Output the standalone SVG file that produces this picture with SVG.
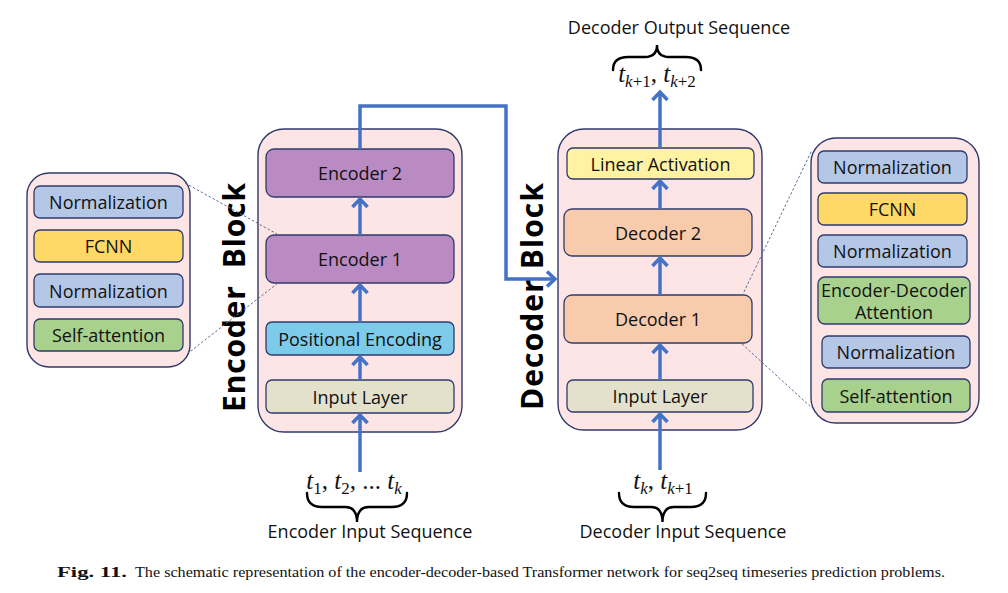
<svg xmlns="http://www.w3.org/2000/svg" width="1008" height="593" viewBox="0 0 1008 593">
<style>
.outer{fill:#fde5e6;stroke:#2f3a6b;stroke-width:1.4}
.box{stroke:#2f3a6b;stroke-width:1.3}
.lbl{font-family:"Open Sans","Liberation Sans",sans-serif;font-size:18px;fill:#111;text-anchor:middle;dominant-baseline:central}
.seq{font-family:"Open Sans","Liberation Sans",sans-serif;font-size:18px;fill:#111;text-anchor:middle}
.blk{font-family:"Open Sans","Liberation Sans",sans-serif;font-size:30px;font-weight:bold;fill:#000;text-anchor:middle}
.math{font-family:"Liberation Serif",serif;font-size:25px;font-style:italic;fill:#111;text-anchor:middle}
.sub{font-size:17px}
.up{font-style:normal}
.arr{fill:none;stroke:#4472c4;stroke-width:3.5}
.dash{fill:none;stroke:#5d6b98;stroke-width:1;stroke-dasharray:2.5,2}
.brace{fill:none;stroke:#000;stroke-width:2.4;stroke-linecap:round}
.norm{fill:#b4c7e7}.fcnn{fill:#ffd966}.sa{fill:#a9d18e}.enc{fill:#b98bc2}.pos{fill:#7ccbea}.inp{fill:#e3e1cc}.dec{fill:#f8cbad}.lin{fill:#fff2a3}
.cap{font-family:"Liberation Serif",serif;font-size:14px;fill:#111}
</style>
<defs>
<marker id="ah" markerUnits="userSpaceOnUse" markerWidth="20" markerHeight="20" refX="11" refY="10" orient="auto">
<path d="M3,2.5 L11,10 L3,17.5" fill="none" stroke="#4472c4" stroke-width="3.5"/>
</marker>
</defs>

<g id="encoder-block">
<rect class="outer" x="258" y="129" width="204" height="303" rx="26"/>
<text class="blk" transform="translate(245,297.5) rotate(-90)" textLength="229" lengthAdjust="spacing" xml:space="preserve">Encoder  Block</text>
</g>
<g id="encoder2"><rect class="box enc" x="266" y="149" width="188" height="48" rx="8"/><text class="lbl" x="360" y="173">Encoder 2</text></g>
<g id="encoder1"><rect class="box enc" x="266" y="235" width="188" height="48" rx="8"/><text class="lbl" x="360" y="259">Encoder 1</text></g>
<g id="positional-encoding"><rect class="box pos" x="266" y="322" width="188" height="33" rx="6"/><text class="lbl" x="360" y="338.5">Positional Encoding</text></g>
<g id="enc-input-layer"><rect class="box inp" x="266" y="380" width="188" height="33" rx="6"/><text class="lbl" x="360" y="396.5">Input Layer</text></g>

<g id="encoder-detail">
<rect class="outer" x="27" y="173" width="163" height="194" rx="22"/>
<rect class="box norm" x="34" y="186" width="149" height="32" rx="6"/><text class="lbl" x="108.5" y="202">Normalization</text>
<rect class="box fcnn" x="34" y="230" width="149" height="32" rx="6"/><text class="lbl" x="108.5" y="246">FCNN</text>
<rect class="box norm" x="34" y="274" width="149" height="33" rx="6"/><text class="lbl" x="108.5" y="290.5">Normalization</text>
<rect class="box sa" x="34" y="319" width="149" height="32" rx="6"/><text class="lbl" x="108.5" y="335">Self-attention</text>
</g>

<g id="decoder-block">
<rect class="outer" x="558" y="129" width="204" height="301" rx="26"/>
<text class="blk" transform="translate(543,296.5) rotate(-90)" textLength="227" lengthAdjust="spacing">Decoder Block</text>
</g>
<g id="linear-activation"><rect class="box lin" x="567" y="148" width="187" height="31" rx="6"/><text class="lbl" x="660.5" y="163.5">Linear Activation</text></g>
<g id="decoder2"><rect class="box dec" x="564" y="209" width="188" height="47" rx="8"/><text class="lbl" x="658" y="232.5">Decoder 2</text></g>
<g id="decoder1"><rect class="box dec" x="564" y="295" width="188" height="48" rx="8"/><text class="lbl" x="658" y="319">Decoder 1</text></g>
<g id="dec-input-layer"><rect class="box inp" x="567" y="380" width="186" height="32" rx="6"/><text class="lbl" x="660" y="396">Input Layer</text></g>

<g id="decoder-detail">
<rect class="outer" x="811" y="138" width="168" height="285" rx="25"/>
<rect class="box norm" x="818" y="151" width="149" height="32" rx="6"/><text class="lbl" x="892.5" y="167">Normalization</text>
<rect class="box fcnn" x="818" y="193" width="149" height="32" rx="6"/><text class="lbl" x="892.5" y="209">FCNN</text>
<rect class="box norm" x="818" y="235" width="149" height="32" rx="6"/><text class="lbl" x="892.5" y="251">Normalization</text>
<rect class="box sa" x="818" y="277" width="152" height="47" rx="7"/><text class="lbl" x="894" y="289.5">Encoder-Decoder</text><text class="lbl" x="894" y="312">Attention</text>
<rect class="box norm" x="822" y="336" width="148" height="32" rx="6"/><text class="lbl" x="896" y="352">Normalization</text>
<rect class="box sa" x="822" y="379" width="148" height="33" rx="6"/><text class="lbl" x="896" y="395.5">Self-attention</text>
</g>

<g id="connectors">
<path class="dash" d="M185,183 L277,234"/>
<path class="dash" d="M187,354 L278,283"/>
<path class="dash" d="M742,296 L812,150"/>
<path class="dash" d="M742,344 L812,408"/>
<path class="arr" d="M360,472 L360,415" marker-end="url(#ah)"/>
<path class="arr" d="M360,380 L360,357" marker-end="url(#ah)"/>
<path class="arr" d="M360,322 L360,285" marker-end="url(#ah)"/>
<path class="arr" d="M360,235 L360,199" marker-end="url(#ah)"/>
<path class="arr" d="M360,149 L360,106 L506,106 L506,279 L555,279" marker-end="url(#ah)"/>
<path class="arr" d="M660,470 L660,414" marker-end="url(#ah)"/>
<path class="arr" d="M660,380 L660,345" marker-end="url(#ah)"/>
<path class="arr" d="M660,295 L660,258" marker-end="url(#ah)"/>
<path class="arr" d="M660,209 L660,181" marker-end="url(#ah)"/>
<path class="arr" d="M660,148 L660,92" marker-end="url(#ah)"/>
</g>

<g id="decoder-output">
<text class="seq" x="679" y="34">Decoder Output Sequence</text>
<path class="brace" d="M613,70 Q613,57 628,57 L645,57 Q657,57 657,45 Q657,57 669,57 L686,57 Q701,57 701,70"/>
<text class="math" x="657" y="82">t<tspan class="sub" dy="5">k</tspan><tspan class="sub up">+1</tspan><tspan dy="-5" class="up">,</tspan> t<tspan class="sub" dy="5">k</tspan><tspan class="sub up">+2</tspan></text>
</g>

<g id="encoder-input">
<text class="math" x="354" y="489">t<tspan class="sub up" dy="5">1</tspan><tspan class="up" dy="-5">,</tspan> t<tspan class="sub up" dy="5">2</tspan><tspan class="up" dy="-5">, ... </tspan>t<tspan class="sub" dy="5">k</tspan></text>
<path class="brace" d="M307,493 Q307,507 322,507 L345,507 Q357,507 357,522 Q357,507 369,507 L392,507 Q407,507 407,493"/>
<text class="seq" x="370" y="538">Encoder Input Sequence</text>
</g>

<g id="decoder-input">
<text class="math" x="663" y="489">t<tspan class="sub" dy="5">k</tspan><tspan class="up" dy="-5">,</tspan> t<tspan class="sub" dy="5">k</tspan><tspan class="sub up">+1</tspan></text>
<path class="brace" d="M619,493 Q619,507 634,507 L651,507 Q662.5,507 662.5,522 Q662.5,507 674,507 L691,507 Q706,507 706,493"/>
<text class="seq" x="683" y="538">Decoder Input Sequence</text>
</g>

<g id="caption">
<text class="cap" x="57" y="577" font-weight="bold" textLength="70" lengthAdjust="spacingAndGlyphs">Fig. 11.</text>
<text class="cap" x="135" y="577" textLength="810" lengthAdjust="spacingAndGlyphs">The schematic representation of the encoder-decoder-based Transformer network for seq2seq timeseries prediction problems.</text>
</g>
</svg>
